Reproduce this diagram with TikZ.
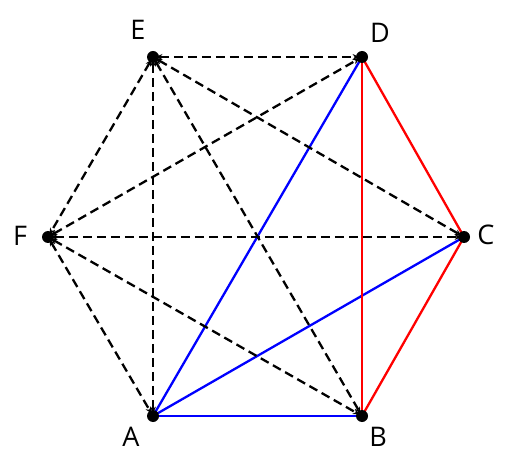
\documentclass[tikz,border=0pt]{standalone}
\usepackage{fontspec}
\setmainfont{Open Sans}
\usetikzlibrary{arrows.meta,backgrounds}

\begin{document}
\begin{tikzpicture}[x=0.5pt,y=-0.5pt,>={Stealth[length=3.2pt,width=3pt]},
				vertex/.style={circle,fill=black,inner sep=0pt,minimum size=6pt},
				tag/.style={font=\fontsize{13.5}{16}\selectfont,inner sep=0pt},
				wire/.style={line width=1.15pt},
				hidden/.style={wire,<->,dashed,dash pattern=on 4.5pt off 2.5pt,shorten >=1.5pt,shorten <=1.5pt}]
			\useasboundingbox (0,0) rectangle (519,470);

			\node[vertex] (A) at (153,416) {};
			\node[vertex] (B) at (362,416) {};
			\node[vertex] (C) at (464,237) {};
			\node[vertex] (D) at (362,57)  {};
			\node[vertex] (E) at (153,57)  {};
			\node[vertex] (F) at (48,237)  {};

			\node[tag] (lA) at (131,437) {A};
			\node[tag] (lB) at (378,437) {B};
			\node[tag] (lC) at (486,235) {C};
			\node[tag] (lD) at (380,33)  {D};
			\node[tag] (lE) at (138,30)  {E};
			\node[tag] (lF) at (20,236)  {F};

			\begin{scope}[on background layer]
				% coloured triangles
				\path[wire,blue] (A.center) edge (B.center) edge (C.center) edge (D.center);
				\path[wire,red] (B.center) edge (C.center) edge (D.center)
				(C.center) edge (D.center);

				% dashed diagonals
				\path[hidden] (E.center) edge (D.center) edge (C.center) edge (B.center)
				edge (A.center) edge (F.center)
				(F.center) edge (D.center) edge (C.center) edge (B.center) edge (A.center);
			\end{scope}
		\end{tikzpicture}
\end{document}
